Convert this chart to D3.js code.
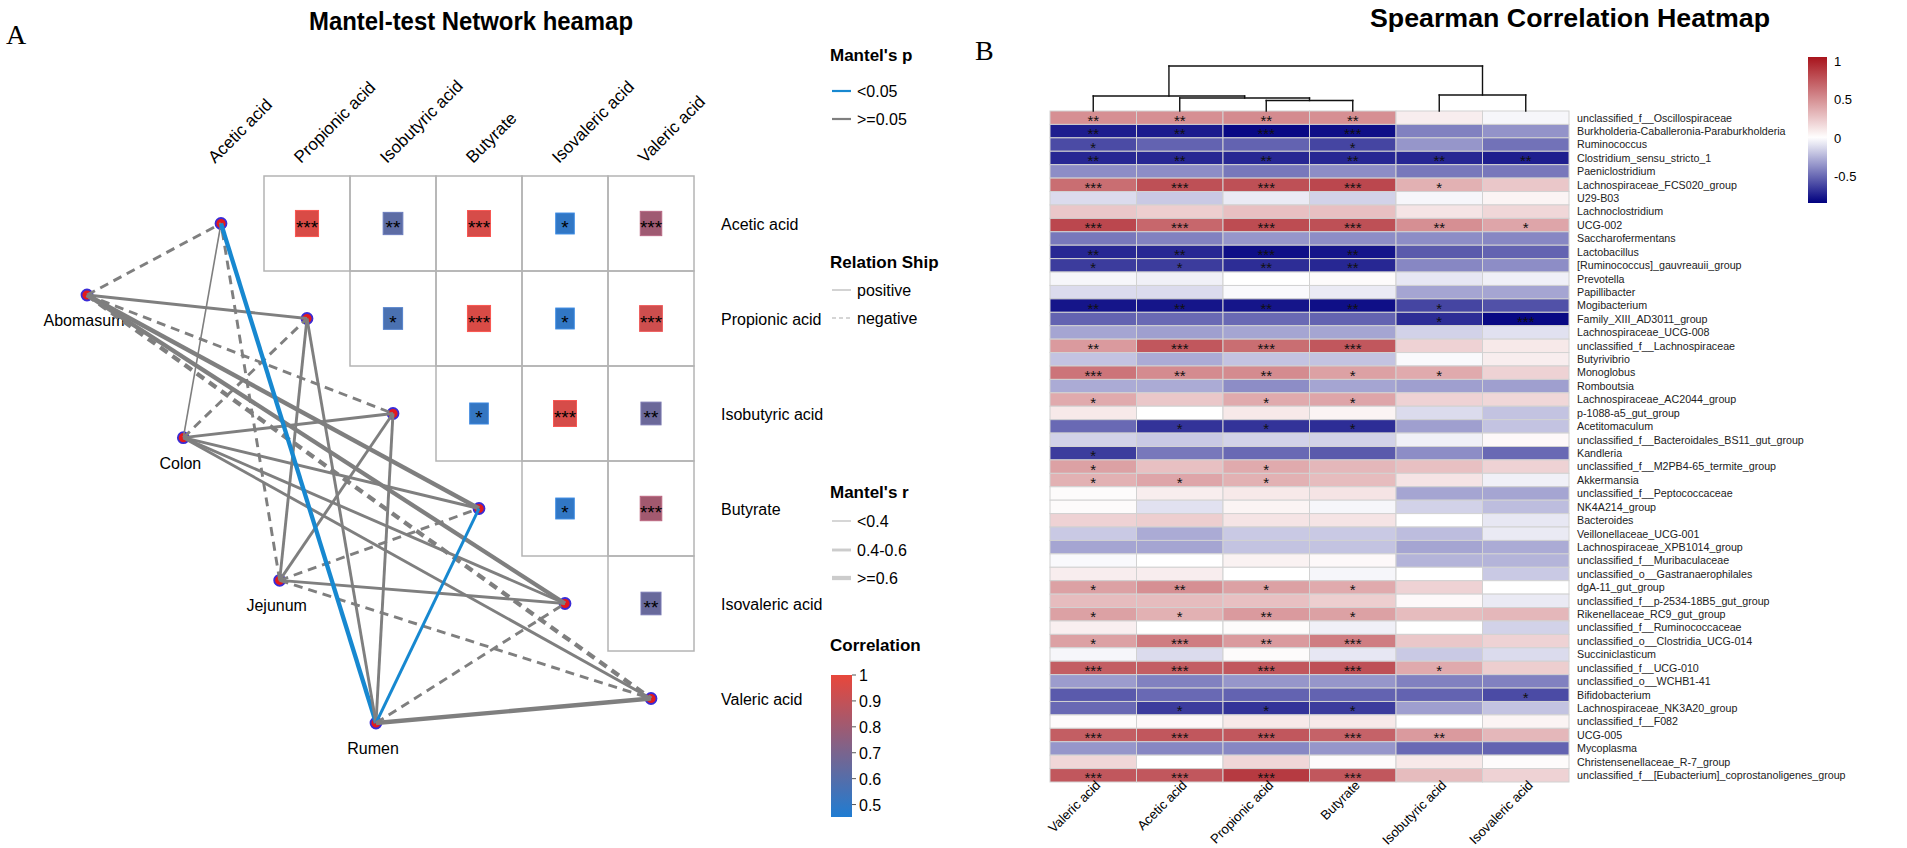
<!DOCTYPE html>
<html>
<head>
<meta charset="utf-8">
<script src="https://cdn.jsdelivr.net/npm/d3@7"></script>
<style>
  body { margin: 0; background: #fff; }
  text { font-family: "Liberation Sans", Arial, Helvetica, sans-serif; }
</style>
</head>
<body>
<div id="chart"></div>
<script>
// ---------------- data: panel A (mantel network) ----------------
const acids = ["Acetic acid", "Propionic acid", "Isobutyric acid", "Butyrate", "Isovaleric acid", "Valeric acid"];
const envs = ["Abomasum", "Colon", "Jejunum", "Rumen"];

// acid-acid correlations, upper triangle: [row, col, r, stars]
const acidPairs = [
    ["Acetic acid", "Propionic acid", 0.96, "***"],
    ["Acetic acid", "Isobutyric acid", 0.62, "**"],
    ["Acetic acid", "Butyrate", 0.95, "***"],
    ["Acetic acid", "Isovaleric acid", 0.50, "*"],
    ["Acetic acid", "Valeric acid", 0.80, "***"],
    ["Propionic acid", "Isobutyric acid", 0.57, "*"],
    ["Propionic acid", "Butyrate", 0.96, "***"],
    ["Propionic acid", "Isovaleric acid", 0.50, "*"],
    ["Propionic acid", "Valeric acid", 0.93, "***"],
    ["Isobutyric acid", "Butyrate", 0.51, "*"],
    ["Isobutyric acid", "Isovaleric acid", 0.95, "***"],
    ["Isobutyric acid", "Valeric acid", 0.66, "**"],
    ["Butyrate", "Isovaleric acid", 0.50, "*"],
    ["Butyrate", "Valeric acid", 0.81, "***"],
    ["Isovaleric acid", "Valeric acid", 0.65, "**"]
];

// mantel test, rows = envs, columns = acids
const mantelR = [
    [0.45, 0.48, 0.55, 0.65, 0.62, 0.62],
    [0.35, 0.45, 0.50, 0.50, 0.50, 0.50],
    [0.45, 0.42, 0.45, 0.45, 0.50, 0.45],
    [0.68, 0.45, 0.45, 0.50, 0.45, 0.65]
];
const mantelP = [
    [0.30, 0.20, 0.20, 0.10, 0.12, 0.20],
    [0.40, 0.25, 0.20, 0.20, 0.20, 0.20],
    [0.30, 0.35, 0.25, 0.25, 0.20, 0.30],
    [0.02, 0.20, 0.20, 0.04, 0.25, 0.10]
];
const mantelSign = [
    [-1, 1, -1, 1, 1, -1],
    [1, -1, 1, 1, 1, 1],
    [-1, 1, 1, -1, 1, -1],
    [1, 1, 1, 1, -1, 1]
];
const corrTicks = [1, 0.9, 0.8, 0.7, 0.6, 0.5];

// ---------------- data: panel B (spearman heatmap) ----------------
const heatCols = ["Valeric acid", "Acetic acid", "Propionic acid", "Butyrate", "Isobutyric acid", "Isovaleric acid"];
const heatRows = [
    "unclassified_f__Oscillospiraceae", "Burkholderia-Caballeronia-Paraburkholderia", "Ruminococcus",
    "Clostridium_sensu_stricto_1", "Paeniclostridium", "Lachnospiraceae_FCS020_group", "U29-B03",
    "Lachnoclostridium", "UCG-002", "Saccharofermentans", "Lactobacillus", "[Ruminococcus]_gauvreauii_group",
    "Prevotella", "Papillibacter", "Mogibacterium", "Family_XIII_AD3011_group", "Lachnospiraceae_UCG-008",
    "unclassified_f__Lachnospiraceae", "Butyrivibrio", "Monoglobus", "Romboutsia",
    "Lachnospiraceae_AC2044_group", "p-1088-a5_gut_group", "Acetitomaculum",
    "unclassified_f__Bacteroidales_BS11_gut_group", "Kandleria", "unclassified_f__M2PB4-65_termite_group",
    "Akkermansia", "unclassified_f__Peptococcaceae", "NK4A214_group", "Bacteroides", "Veillonellaceae_UCG-001",
    "Lachnospiraceae_XPB1014_group", "unclassified_f__Muribaculaceae", "unclassified_o__Gastranaerophilales",
    "dgA-11_gut_group", "unclassified_f__p-2534-18B5_gut_group", "Rikenellaceae_RC9_gut_group",
    "unclassified_f__Ruminococcaceae", "unclassified_o__Clostridia_UCG-014", "Succiniclasticum",
    "unclassified_f__UCG-010", "unclassified_o__WCHB1-41", "Bifidobacterium", "Lachnospiraceae_NK3A20_group",
    "unclassified_f__F082", "UCG-005", "Mycoplasma", "Christensenellaceae_R-7_group",
    "unclassified_f__[Eubacterium]_coprostanoligenes_group"
];
const rhoValeric = [0.50,-0.75,-0.60,-0.72,-0.38,0.65,-0.12,0.25,0.82,-0.45, -0.72,-0.65,-0.03,-0.12,-0.78,-0.52,-0.30,0.45,-0.20,0.62,
    -0.28,0.38,0.10,-0.50,-0.15,-0.65,0.42,0.35,0.02,0.02, 0.20,-0.18,-0.30,-0.02,0.08,0.42,0.30,0.42,0.07,0.42,
    -0.03,0.72,-0.33,-0.55,-0.50,0.02,0.72,-0.35,0.18,0.75];
const rhoAcetic = [0.50,-0.76,-0.52,-0.72,-0.38,0.78,-0.18,0.22,0.68,-0.42, -0.72,-0.65,-0.05,-0.12,-0.78,-0.50,-0.32,0.75,-0.28,0.52,
    -0.28,0.25,0.00,-0.68,-0.18,-0.45,0.28,0.40,0.08,-0.10, 0.22,-0.28,-0.30,0.00,0.08,0.50,0.30,0.35,0.00,0.58,
    -0.12,0.72,-0.42,-0.50,-0.65,0.03,0.75,-0.40,0.00,0.75];
const rhoPropionic = [0.52,-0.82,-0.52,-0.72,-0.45,0.78,-0.07,0.28,0.80,-0.35, -0.80,-0.70,0.00,-0.02,-0.78,-0.50,-0.30,0.65,-0.20,0.52,
    -0.38,0.38,0.10,-0.68,-0.15,-0.50,0.38,0.35,0.10,0.05, 0.12,-0.18,-0.20,0.06,0.00,0.42,0.28,0.45,0.02,0.45,
    0.02,0.75,-0.35,-0.52,-0.68,0.10,0.75,-0.40,0.18,0.88];
const rhoButyrate = [0.50,-0.80,-0.62,-0.72,-0.38,0.82,-0.15,0.28,0.78,-0.38, -0.78,-0.72,0.02,-0.07,-0.80,-0.52,-0.30,0.75,-0.20,0.42,
    -0.30,0.40,0.05,-0.70,-0.15,-0.55,0.32,0.30,0.12,-0.03, 0.12,-0.18,-0.20,0.03,-0.03,0.38,0.22,0.42,-0.05,0.58,
    -0.08,0.78,-0.35,-0.52,-0.65,0.10,0.70,-0.35,0.02,0.75];
const rhoIsobutyric = [0.08,-0.42,-0.35,-0.72,-0.45,0.35,-0.03,0.12,0.50,-0.38, -0.55,-0.40,-0.08,-0.30,-0.62,-0.70,-0.15,0.20,-0.02,0.38,
    -0.32,0.20,-0.12,-0.32,-0.05,-0.38,0.28,0.12,-0.30,-0.15, 0.00,-0.22,-0.30,-0.25,0.00,0.20,0.03,0.30,0.00,0.25,
    -0.18,0.38,-0.42,-0.52,-0.32,0.00,0.45,-0.50,0.10,0.30];
const rhoIsovaleric = [-0.03,-0.36,-0.47,-0.75,-0.45,0.25,0.05,0.18,0.40,-0.40, -0.52,-0.38,-0.05,-0.30,-0.58,-0.82,-0.10,0.10,0.08,0.20,
    -0.32,0.18,-0.20,-0.20,0.03,-0.50,0.20,-0.05,-0.30,-0.22, -0.08,-0.07,-0.28,-0.25,-0.18,0.00,-0.07,0.32,-0.15,0.20,
    -0.12,0.22,-0.42,-0.60,-0.20,0.05,0.32,-0.52,0.02,0.20];

const starValeric = ["**","**","*","**","","***","","","***","", "**","*","","","**","","","**","","***",
    "","*","","","","*","*","*","","", "","","","","","*","","*","","*", "","***","","","","","***","","","***"];
const starAcetic = ["**","**","","**","","***","","","***","", "**","*","","","**","","","***","","**",
    "","","","*","","","","*","","", "","","","","","**","","*","","***", "","***","","","*","","***","","","***"];
const starPropionic = ["**","***","","**","","***","","","***","", "***","**","","","**","","","***","","**",
    "","*","","*","","","*","*","","", "","","","","","*","","**","","**", "","***","","","*","","***","","","***"];
const starButyrate = ["**","***","*","**","","***","","","***","", "**","**","","","**","","","***","","*",
    "","*","","*","","","","","","", "","","","","","*","","*","","***", "","***","","","*","","***","","","***"];
const starIsobutyric = ["","","","**","","*","","","**","", "","","","","*","*","","","","*",
    "","","","","","","","","","", "","","","","","","","","","", "","*","","","","","**","","",""];
const starIsovaleric = ["","","","**","","","","","*","", "","","","","","***","","","","",
    "","","","","","","","","","", "","","","","","","","","","", "","","","*","","","","","",""];

// column dendrogram: [left, right, height], merged nodes named m1, m2, ...
const dendroMerges = [
    ["Propionic acid", "Butyrate", 0.233],
    ["Acetic acid", "m1", 0.289],
    ["Valeric acid", "m2", 0.333],
    ["Isobutyric acid", "Isovaleric acid", 0.356],
    ["m3", "m4", 1.0]
];
const heatTicks = [1, 0.5, 0, -0.5];

// ---------------- drawing ----------------
const svg = d3.select("#chart").append("svg")
    .attr("width", 1907).attr("height", 848);

// panel letters and titles
svg.append("text").attr("x", 6).attr("y", 44)
    .style("font-family", '"Liberation Serif", "Times New Roman", serif')
    .attr("font-size", 28).text("A");
svg.append("text").attr("x", 975).attr("y", 60)
    .style("font-family", '"Liberation Serif", "Times New Roman", serif')
    .attr("font-size", 28).text("B");
svg.append("text").attr("x", 309).attr("y", 30)
    .attr("font-size", 25).attr("font-weight", "bold")
    .attr("textLength", 324).attr("lengthAdjust", "spacingAndGlyphs")
    .text("Mantel-test Network heamap");
svg.append("text").attr("x", 1370).attr("y", 27)
    .attr("font-size", 26).attr("font-weight", "bold")
    .attr("textLength", 400).attr("lengthAdjust", "spacingAndGlyphs")
    .text("Spearman Correlation Heatmap");

// ---- panel A: correlation triangle ----
const xA = d3.scaleBand().domain(acids).range([178, 694]);
const yA = d3.scaleBand().domain(acids).range([176, 746]);
const corrColor = d3.scaleLinear().domain([0.452, 1]).range(["#1f7cd2", "#e8473b"]);
const squareSize = d3.scaleLinear().domain([0.45, 1]).range([18, 23.5]);

const gA = svg.append("g");
const cells = gA.selectAll("g.cell").data(acidPairs).join("g").attr("class", "cell");
cells.append("rect")
    .attr("x", d => xA(d[1])).attr("y", d => yA(d[0]))
    .attr("width", xA.bandwidth()).attr("height", yA.bandwidth())
    .attr("fill", "none").attr("stroke", "#b4b4b4").attr("stroke-width", 1.5);
cells.append("rect")
    .attr("x", d => xA(d[1]) + xA.bandwidth() / 2 - squareSize(d[2]) / 2)
    .attr("y", d => yA(d[0]) + yA.bandwidth() / 2 - squareSize(d[2]) * 1.13 / 2)
    .attr("width", d => squareSize(d[2])).attr("height", d => squareSize(d[2]) * 1.13)
    .attr("fill", d => corrColor(d[2])).attr("stroke", d => d3.color(corrColor(d[2])).brighter(0.4));
cells.append("text")
    .attr("x", d => xA(d[1]) + xA.bandwidth() / 2)
    .attr("y", d => yA(d[0]) + yA.bandwidth() / 2 + 10.5)
    .attr("text-anchor", "middle").attr("font-size", 19).text(d => d[3]);

// column headers (rotated) and row labels
gA.selectAll("text.colhead").data(acids).join("text").attr("class", "colhead")
    .attr("transform", d => `translate(${xA(d) + xA.bandwidth() / 2 - 6},164) rotate(-45)`)
    .attr("font-size", 17).text(d => d);
gA.selectAll("text.rowlab").data(acids).join("text").attr("class", "rowlab")
    .attr("x", 721).attr("y", d => yA(d) + yA.bandwidth() / 2 + 6)
    .attr("font-size", 16).text(d => d);

// network: env nodes spread on a line, acid nodes on the diagonal
const envX = d3.scalePoint().domain(envs).range([87, 376]);
const envY = d3.scalePoint().domain(envs).range([295, 723]);
const acidX = d => xA(d) + xA.bandwidth() / 2;
const acidY = d => yA(d) + yA.bandwidth() / 2;

const edges = [];
envs.forEach((e, i) => acids.forEach((a, j) => edges.push({
    env: e, acid: a, r: mantelR[i][j], p: mantelP[i][j], sign: mantelSign[i][j]
})));
const edgeWidth = r => r < 0.4 ? 1.6 : (r < 0.6 ? 2.9 : 4.3);

gA.selectAll("circle.acid").data(acids).join("circle").attr("class", "acid")
    .attr("cx", acidX).attr("cy", acidY).attr("r", 5.5)
    .attr("fill", "#e31a1c").attr("stroke", "#3a2bd6").attr("stroke-width", 1.8);
gA.selectAll("circle.env").data(envs).join("circle").attr("class", "env")
    .attr("cx", d => envX(d)).attr("cy", d => envY(d)).attr("r", 5.5)
    .attr("fill", "#e31a1c").attr("stroke", "#3a2bd6").attr("stroke-width", 1.8);
gA.selectAll("text.envlab").data(envs).join("text").attr("class", "envlab")
    .attr("x", d => envX(d) - 3).attr("y", d => envY(d) + 31)
    .attr("text-anchor", "middle").attr("font-size", 16).text(d => d);

gA.selectAll("line.edge").data(edges).join("line").attr("class", "edge")
    .attr("x1", d => envX(d.env)).attr("y1", d => envY(d.env))
    .attr("x2", d => acidX(d.acid)).attr("y2", d => acidY(d.acid))
    .attr("stroke", d => d.p < 0.05 ? "#1788d0" : "#7f7f7f")
    .attr("stroke-width", d => edgeWidth(d.r))
    .attr("stroke-dasharray", d => d.sign < 0 ? "9,6" : null);

// ---- panel A legends ----
const lg = svg.append("g").attr("font-size", 16);
function legendTitle(y, label) {
    lg.append("text").attr("x", 830).attr("y", y).attr("font-size", 17)
        .attr("font-weight", "bold").text(label);
}
function legendKey(y, stroke, width, dash, label) {
    lg.append("line").attr("x1", 832).attr("x2", 851).attr("y1", y).attr("y2", y)
        .attr("stroke", stroke).attr("stroke-width", width).attr("stroke-dasharray", dash);
    lg.append("text").attr("x", 857).attr("y", y + 6).text(label);
}
legendTitle(61, "Mantel's p");
legendKey(91, "#1788d0", 2.2, null, "<0.05");
legendKey(119, "#7f7f7f", 2.2, null, ">=0.05");
legendTitle(268, "Relation Ship");
legendKey(290, "#c8c8c8", 1.6, null, "positive");
legendKey(318, "#c8c8c8", 1.6, "4,3", "negative");
legendTitle(498, "Mantel's r");
legendKey(521, "#cccccc", edgeWidth(0.3), null, "<0.4");
legendKey(550, "#cccccc", edgeWidth(0.5), null, "0.4-0.6");
legendKey(578, "#cccccc", edgeWidth(0.7), null, ">=0.6");
legendTitle(651, "Correlation");

const defs = svg.append("defs");
const gradA = defs.append("linearGradient").attr("id", "gradA")
    .attr("x1", 0).attr("y1", 1).attr("x2", 0).attr("y2", 0);
d3.range(0, 1.001, 0.1).forEach(t => gradA.append("stop")
    .attr("offset", t).attr("stop-color", corrColor(0.452 + t * (1 - 0.452))));
const barA = d3.scaleLinear().domain([0.452, 1]).range([817, 675]);
lg.append("rect").attr("x", 831).attr("y", barA(1)).attr("width", 21)
    .attr("height", barA(0.452) - barA(1)).attr("fill", "url(#gradA)");
lg.selectAll("line.tickA").data(corrTicks).join("line").attr("class", "tickA")
    .attr("x1", 852).attr("x2", 856).attr("y1", d => barA(d)).attr("y2", d => barA(d))
    .attr("stroke", "#555");
lg.selectAll("text.tickA").data(corrTicks).join("text").attr("class", "tickA")
    .attr("x", 859).attr("y", d => barA(d) + 6).text(d => d);

// ---- panel B: heatmap ----
const rhoCols = [rhoValeric, rhoAcetic, rhoPropionic, rhoButyrate, rhoIsobutyric, rhoIsovaleric];
const starCols = [starValeric, starAcetic, starPropionic, starButyrate, starIsobutyric, starIsovaleric];
const xB = d3.scaleBand().domain(heatCols).range([1050, 1569]);
const yB = d3.scaleBand().domain(heatRows).range([111, 782]);
const heatColor = d3.scaleLinear().domain([-0.85, 0, 1.05]).range(["#00007f", "#ffffff", "#a8141c"]);

const heatData = [];
heatCols.forEach((c, j) => heatRows.forEach((r, i) => heatData.push({
    col: c, row: r, value: rhoCols[j][i], star: starCols[j][i]
})));

const gB = svg.append("g");
gB.selectAll("rect").data(heatData).join("rect")
    .attr("x", d => xB(d.col)).attr("y", d => yB(d.row))
    .attr("width", xB.bandwidth()).attr("height", yB.bandwidth())
    .attr("fill", d => heatColor(d.value))
    .attr("stroke", "#d2d2d2").attr("stroke-width", 1);
gB.selectAll("text.star").data(heatData.filter(d => d.star)).join("text").attr("class", "star")
    .attr("x", d => xB(d.col) + xB.bandwidth() / 2)
    .attr("y", d => yB(d.row) + yB.bandwidth() / 2 + 8)
    .attr("text-anchor", "middle").attr("font-size", 15).attr("fill", "#111")
    .text(d => d.star);

gB.selectAll("text.rowlab").data(heatRows).join("text").attr("class", "rowlab")
    .attr("x", 1577).attr("y", d => yB(d) + yB.bandwidth() / 2 + 3.8)
    .attr("font-size", 10.7).attr("fill", "#222").text(d => d);
gB.selectAll("text.collab").data(heatCols).join("text").attr("class", "collab")
    .attr("transform", d => `translate(${xB(d) + xB.bandwidth() / 2 + 8},786) rotate(-45)`)
    .attr("text-anchor", "end").attr("font-size", 13.2).text(d => d);

// column dendrogram
const yDen = d3.scaleLinear().domain([0, 1]).range([111, 66]);
const denPos = {};
heatCols.forEach(c => denPos[c] = { x: xB(c) + xB.bandwidth() / 2, h: 0 });
const denLines = [];
dendroMerges.forEach((m, k) => {
    const a = denPos[m[0]], b = denPos[m[1]];
    denLines.push([a.x, yDen(a.h), a.x, yDen(m[2])]);
    denLines.push([b.x, yDen(b.h), b.x, yDen(m[2])]);
    denLines.push([a.x, yDen(m[2]), b.x, yDen(m[2])]);
    denPos["m" + (k + 1)] = { x: (a.x + b.x) / 2, h: m[2] };
});
gB.selectAll("line.den").data(denLines).join("line").attr("class", "den")
    .attr("x1", d => d[0]).attr("y1", d => d[1]).attr("x2", d => d[2]).attr("y2", d => d[3])
    .attr("stroke", "#111").attr("stroke-width", 1.4).attr("stroke-linecap", "square");

// heatmap colour bar
const gradB = defs.append("linearGradient").attr("id", "gradB")
    .attr("x1", 0).attr("y1", 1).attr("x2", 0).attr("y2", 0);
d3.range(0, 1.001, 0.05).forEach(t => gradB.append("stop")
    .attr("offset", t).attr("stop-color", heatColor(-0.85 + t * 1.9)));
const barB = d3.scaleLinear().domain([-0.85, 1.05]).range([203, 57]);
gB.append("rect").attr("x", 1808).attr("y", barB(1.05)).attr("width", 19)
    .attr("height", barB(-0.85) - barB(1.05)).attr("fill", "url(#gradB)");
gB.selectAll("text.tickB").data(heatTicks).join("text").attr("class", "tickB")
    .attr("x", 1834).attr("y", d => barB(d) + 5).attr("font-size", 13).text(d => d);
</script>
</body>
</html>
